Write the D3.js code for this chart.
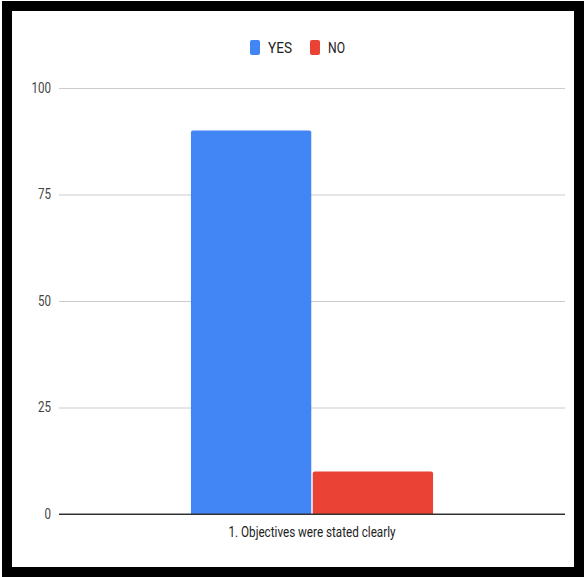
<!DOCTYPE html>
<html><head><meta charset="utf-8">
<script src="https://cdn.jsdelivr.net/npm/d3@7"></script>
<style>html,body{margin:0;padding:0;background:#fff;}svg{display:block;}</style>
</head><body>
<svg id="c" width="584" height="577"></svg>
<script>
const categories = ["1. Objectives were stated clearly"];
const seriesNames = ["YES", "NO"];
const yesValues = [90];
const noValues = [10];
const yTicks = [0, 25, 50, 75, 100];
const colors = ["#4285F4", "#EA4335"];

(function() {
const svg = d3.select("#c");
const W = 584, H = 577;
svg.append("rect").attr("x", 0).attr("y", 0).attr("width", W).attr("height", H).attr("fill", "#fff");
svg.append("rect").attr("x", 7).attr("y", 6).attr("width", 572).attr("height", 566)
  .attr("fill", "none").attr("stroke", "#000").attr("stroke-width", 10);

const mLeft = 59, mRight = 565, mTop = 88, mBottom = 514;
const y = d3.scaleLinear().domain([0, 100]).range([mBottom, mTop]);
const x0 = d3.scaleBand().domain(categories).range([mLeft, mRight]).paddingInner(0).paddingOuter(0.545);
const x1 = d3.scaleBand().domain(seriesNames).range([0, x0.bandwidth()]).paddingInner(0.012);

const yAxis = d3.axisLeft(y).tickValues(yTicks).tickSize(-(mRight - mLeft)).tickPadding(8);
const ga = svg.append("g").attr("transform", `translate(${mLeft},0)`).call(yAxis);
ga.select(".domain").remove();
ga.selectAll(".tick line").attr("stroke", d => d === 0 ? "#333" : "#ccc").attr("stroke-width", 1);
ga.selectAll(".tick text").attr("fill", "#444").attr("font-family", "Roboto, Arial, sans-serif")
  .attr("font-size", 14).attr("textLength", d => String(d).length * 6.5).attr("lengthAdjust", "spacingAndGlyphs");

const data = categories.map((c, i) => ({c, vals: [yesValues[i], noValues[i]]}));
const g = svg.append("g");
data.forEach(d => {
  d.vals.forEach((v, j) => {
    const bx = x0(d.c) + x1(seriesNames[j]);
    const bw = x1.bandwidth();
    const by = y(v), bh = y(0) - y(v);
    const r = 2;
    g.append("path").attr("fill", colors[j])
      .attr("d", `M${bx},${by + bh} V${by + r} Q${bx},${by} ${bx + r},${by} H${bx + bw - r} Q${bx + bw},${by} ${bx + bw},${by + r} V${by + bh} Z`);
  });
});
svg.append("line").attr("x1", mLeft).attr("x2", mRight).attr("y1", y(0)).attr("y2", y(0)).attr("stroke", "#333");

const xa = svg.append("g").attr("transform", `translate(0,${mBottom})`)
  .call(d3.axisBottom(x0).tickSize(0).tickPadding(13));
xa.select(".domain").remove();
xa.selectAll(".tick text").attr("fill", "#222").attr("font-family", "Roboto, Arial, sans-serif")
  .attr("font-size", 14).attr("textLength", 167).attr("lengthAdjust", "spacingAndGlyphs");

const legend = svg.append("g");
const legX = [250, 310];
seriesNames.forEach((s, j) => {
  legend.append("rect").attr("x", legX[j]).attr("y", 40).attr("width", 10).attr("height", 15)
    .attr("rx", 2).attr("fill", colors[j]);
  legend.append("text").attr("x", legX[j] + 18).attr("y", 53).text(s)
    .attr("font-family", "Roboto, Arial, sans-serif").attr("font-size", 14).attr("fill", "#222")
    .attr("textLength", j === 0 ? 24 : 17).attr("lengthAdjust", "spacingAndGlyphs");
});
})();
</script>
</body></html>
